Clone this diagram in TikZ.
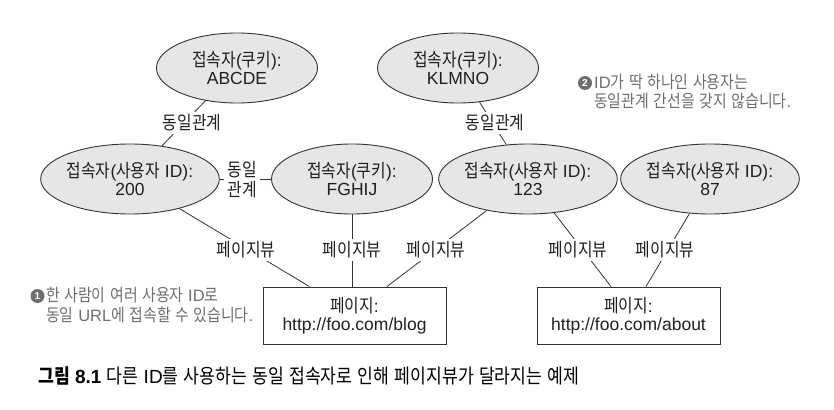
\documentclass[tikz,border=0pt]{standalone}
\usepackage{fontspec}
\usetikzlibrary{shapes.geometric}
\setmainfont{Liberation Sans}
\newfontfamily\krfont{Noto Sans CJK KR}[Scale=1.05,FakeStretch=0.862]
\newfontfamily\latfont{Liberation Sans}
\XeTeXinterchartokenstate=1
\newXeTeXintercharclass\krclass
\count255="AC00
\loop
  \XeTeXcharclass\count255=\krclass
  \advance\count255 by 1
\ifnum\count255<"D7A4 \repeat
\XeTeXinterchartoks 0 \krclass = {\krfont}
\XeTeXinterchartoks 4095 \krclass = {\krfont}
\XeTeXinterchartoks \krclass 0 = {\latfont}
\XeTeXinterchartoks \krclass 4095 = {\latfont}
\definecolor{txt}{HTML}{231F20}
\definecolor{note}{HTML}{6E6E6E}
\definecolor{ellfill}{HTML}{E6E6E6}
\definecolor{edge}{HTML}{333333}
\tikzset{
  ell/.style={ellipse, draw=edge, fill=ellfill, line width=0.9pt,
    minimum width=161pt, minimum height=70pt, inner sep=0pt,
    align=center, text=txt, font=\fontsize{17.5}{18.5}\selectfont},
  pg/.style={rectangle, draw=edge, line width=0.9pt,
    minimum width=183pt, minimum height=57pt, inner sep=0pt,
    align=center, text=txt, font=\fontsize{17.5}{18.5}\selectfont},
  lab/.style={fill=white, inner sep=3pt, align=center, text=txt,
    font=\fontsize{17.5}{19.5}\selectfont},
  conn/.style={draw=edge, line width=0.8pt},
  notetext/.style={align=left, text=note, inner sep=0pt,
    font=\fontsize{16.5}{19.5}\selectfont},
  numcirc/.style={circle, fill=note, text=white, inner sep=0pt,
    minimum size=14pt, font=\fontsize{10}{10}\selectfont\bfseries}
}
\begin{document}
\begin{tikzpicture}[x=1pt,y=-1pt]
\useasboundingbox (0,0) rectangle (834,409);
% nodes
\node[ell] (c1) at (237,68) {접속자(쿠키):\\ABCDE};
\node[ell] (c2) at (458,68) {접속자(쿠키):\\KLMNO};
\node[ell] (u200) at (130,179) {접속자(사용자 ID):\\200};
\node[ell] (c3) at (352,179) {접속자(쿠키):\\FGHIJ};
\node[ell] (u123) at (528,179) {접속자(사용자 ID):\\123};
\node[ell] (u87) at (710,179) {접속자(사용자 ID):\\87};
\node[pg] (blog) at (354.5,315.5) {페이지:\\http://foo.com/blog};
\node[pg] (about) at (628.5,315.5) {페이지:\\http://foo.com/about};
% connectors
\draw[conn] (c1) -- (u200);
\draw[conn] (u200) -- (c3);
\draw[conn] (c2) -- (u123);
\draw[conn] (u200) -- ([xshift=-45pt]blog.north);
\draw[conn] (c3) -- (c3 |- blog.north);
\draw[conn] (u123) -- ([xshift=32.5pt]blog.north);
\draw[conn] (u123) -- ([xshift=-17.5pt]about.north);
\draw[conn] (u87) -- ([xshift=17.5pt]about.north);
% labels
\node[lab] (l1) at (192,123) {동일관계};
\node[lab] (l2) at (242,179.5) {동일\\관계};
\node[lab] (l3) at (495,123) {동일관계};
\node[lab] (p1) at (246,250) {페이지뷰};
\node[lab] (p2) at (352,250) {페이지뷰};
\node[lab] (p3) at (436,250) {페이지뷰};
\node[lab] (p4) at (578,250) {페이지뷰};
\node[lab] (p5) at (665,250) {페이지뷰};
% notes
\node[numcirc] (n1) at (37.5,296) {1};
\node[notetext, anchor=west] (t1) at (46,305) {한 사람이 여러 사용자 ID로\\동일 URL에 접속할 수 있습니다.};
\node[numcirc] (n2) at (585,83) {2};
\node[notetext, anchor=west] (t2) at (594,91.5) {ID가 딱 하나인 사용자는\\동일관계 간선을 갖지 않습니다.};
% caption
\node[anchor=west, inner sep=0pt, text=black, font=\fontsize{19}{22}\selectfont] (cap) at (38,376) {{\bfseries 그림 8.1} 다른 ID를 사용하는 동일 접속자로 인해 페이지뷰가 달라지는 예제};
\end{tikzpicture}
\end{document}
